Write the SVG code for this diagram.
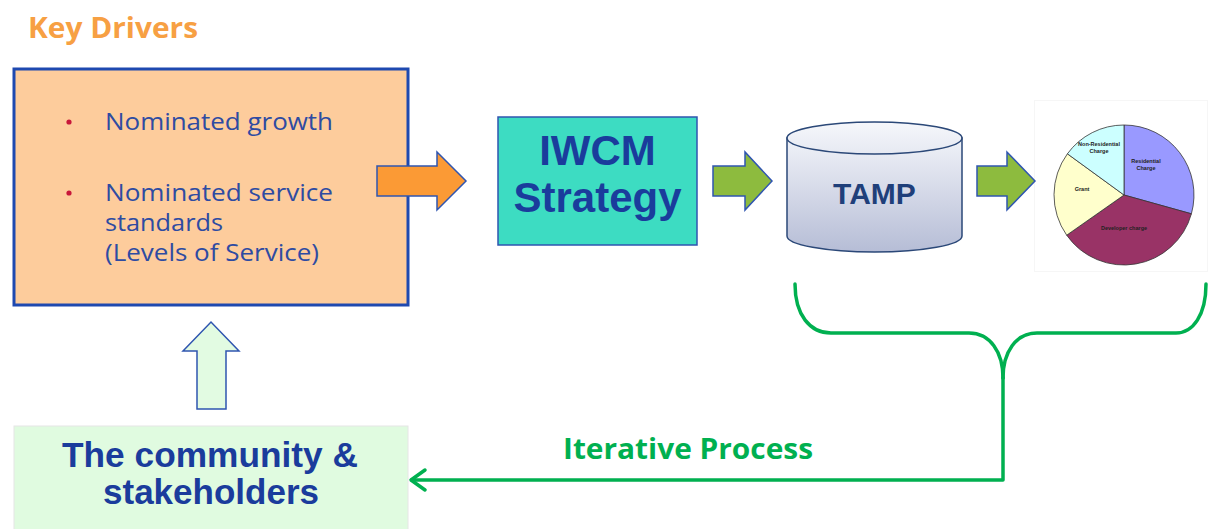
<svg xmlns="http://www.w3.org/2000/svg" width="1208" height="529" viewBox="0 0 1208 529">
<style>
.gothic{font-family:"Open Sans","Lato","DejaVu Sans",sans-serif}
.arial{font-family:"Liberation Sans",Arial,sans-serif;font-weight:bold}
.navy{fill:#1A3C9C}
.bullet{fill:#2E4BA2;font-size:23px}
.blockarrow{stroke:#2F55B0;stroke-width:1.5;stroke-linejoin:miter}
.green{fill:#8DBB3E}
.pie path{stroke:#333;stroke-width:0.8}
.pl{font-family:"Liberation Sans",Arial,sans-serif;font-size:5.5px;font-weight:bold;fill:#222;text-anchor:middle}
.loop{fill:none;stroke:#00B050;stroke-width:3.5;stroke-linecap:round;stroke-linejoin:round}
</style>
<defs>
<linearGradient id="cyl" x1="0" y1="0" x2="0" y2="1">
<stop offset="0" stop-color="#F0F2F8"/>
<stop offset="1" stop-color="#B6BDD6"/>
</linearGradient>
<linearGradient id="cyltop" x1="0" y1="0" x2="0" y2="1">
<stop offset="0" stop-color="#F6F7FB"/>
<stop offset="1" stop-color="#E6E9F2"/>
</linearGradient>
</defs>

<rect width="1208" height="529" fill="#FFFFFF"/>

<g id="key-drivers-title">
<text class="gothic" x="28" y="38" font-size="29" font-weight="bold" fill="#F7A043" textLength="170" lengthAdjust="spacingAndGlyphs">Key Drivers</text>
</g>

<g id="key-drivers">
<rect x="14" y="69" width="394" height="236" fill="#FDCC9C" stroke="#1E49B0" stroke-width="3"/>
<circle cx="69" cy="122" r="2.6" fill="#C8173A"/>
<circle cx="69" cy="193" r="2.6" fill="#C8173A"/>
<text class="gothic bullet" x="105" y="130" textLength="228" lengthAdjust="spacingAndGlyphs">Nominated growth</text>
<text class="gothic bullet" x="105" y="201" textLength="228" lengthAdjust="spacingAndGlyphs">Nominated service</text>
<text class="gothic bullet" x="105" y="231" textLength="118" lengthAdjust="spacingAndGlyphs">standards</text>
<text class="gothic bullet" x="105" y="261" textLength="214" lengthAdjust="spacingAndGlyphs">(Levels of Service)</text>
</g>

<g id="iwcm-strategy">
<rect x="498" y="117" width="199" height="128" fill="#3DDCC2" stroke="#2F55B0" stroke-width="1.5"/>
<text class="arial navy" x="597.5" y="165" font-size="42" text-anchor="middle">IWCM</text>
<text class="arial navy" x="597.5" y="212" font-size="42" text-anchor="middle">Strategy</text>
</g>

<g id="tamp">
<path d="M787 138 L787 236 A87.5 16 0 0 0 962 236 L962 138 Z" fill="url(#cyl)" stroke="#2B4878" stroke-width="1.5"/>
<ellipse cx="874.5" cy="138" rx="87.5" ry="16" fill="url(#cyltop)" stroke="#2B4878" stroke-width="1.5"/>
<text class="arial" x="874.5" y="204" font-size="30" text-anchor="middle" fill="#1F3F7A">TAMP</text>
</g>

<g id="funding-pie">
<rect x="1034.5" y="100.5" width="173" height="171" fill="#FFFFFF" stroke="#F6F6F6" stroke-width="1"/>
<g class="pie">
<path d="M1124 195 L1124 125 A70 70 0 0 1 1191.4 213.8 Z" fill="#9999FF"/>
<path d="M1124 195 L1191.4 213.8 A70 70 0 0 1 1066.7 235.2 Z" fill="#993366"/>
<path d="M1124 195 L1066.7 235.2 A70 70 0 0 1 1067.4 153.8 Z" fill="#FFFFCC"/>
<path d="M1124 195 L1067.4 153.8 A70 70 0 0 1 1124 125 Z" fill="#CCFFFF"/>
</g>
<text class="pl" x="1146" y="163">Residential</text>
<text class="pl" x="1146" y="170">Charge</text>
<text class="pl" x="1099" y="146">Non-Residential</text>
<text class="pl" x="1099" y="153">Charge</text>
<text class="pl" x="1082" y="191">Grant</text>
<text class="pl" x="1124" y="230">Developer charge</text>
</g>

<g id="community">
<rect x="14" y="426" width="394" height="110" fill="#E0FBE0" stroke="#E6E6E6" stroke-width="1"/>
<text class="arial navy" x="210" y="467" font-size="35" text-anchor="middle" textLength="296" lengthAdjust="spacingAndGlyphs">The community &amp;</text>
<text class="arial navy" x="211" y="504" font-size="35" text-anchor="middle">stakeholders</text>
</g>

<g id="connectors">
<path class="blockarrow" d="M377 166 L437 166 L437 152 L466 181 L437 210 L437 196 L377 196 Z" fill="#FB9A35"/>
<path class="blockarrow green" d="M713 166 L745 166 L745 152 L772 181 L745 210 L745 196 L713 196 Z"/>
<path class="blockarrow green" d="M977 166 L1007 166 L1007 152 L1035 181 L1007 210 L1007 196 L977 196 Z"/>
<path class="blockarrow" d="M197 409 L226 409 L226 351 L239 351 L211 322 L183 351 L197 351 Z" fill="#E2FBE2"/>
<path class="loop" d="M795 284 C795 315 810 333 831 333 L969 333 C990 333 1003 352 1003 378"/>
<path class="loop" d="M1206 284 C1206 315 1193 333 1176 333 L1037 333 C1016 333 1003 352 1003 378"/>
<path class="loop" d="M1003 378 L1003 480 L412 480"/>
<path class="loop" d="M425 470 L411 480 L425 490"/>
<text class="gothic" x="563" y="459" font-size="28" font-weight="bold" fill="#00B050" textLength="250" lengthAdjust="spacingAndGlyphs">Iterative Process</text>
</g>
</svg>
